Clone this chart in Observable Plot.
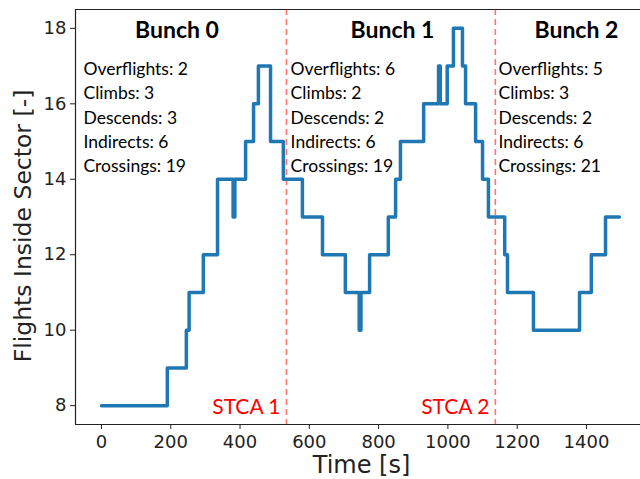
<!DOCTYPE html>
<html>
<head>
<meta charset="utf-8">
<script src="https://cdn.jsdelivr.net/npm/d3@7"></script>
<script src="https://cdn.jsdelivr.net/npm/@observablehq/plot@0.6"></script>
<style>
  html, body { margin: 0; padding: 0; background: #fff; overflow: hidden; }
  svg { display: block; }
</style>
</head>
<body>
<div id="chart"></div>
<script>
// Flights inside sector: change points (time [s] -> count)
const times  = [0, 190, 245, 253, 294, 335, 380, 385, 416, 439, 453, 488, 525, 580, 638, 704, 744, 749, 774, 828, 849, 863, 930, 973, 978, 998, 1016, 1042, 1051, 1080, 1100, 1117, 1164, 1172, 1247, 1380, 1414, 1455, 1495];
const counts = [8,   9,   10,  11,  12,  14,  13,  14,  15,  16,  17,  15,  14,  13,  12,  11,  10,  11,  12,  13,  14,  15,  16,  17,  16,  17,  18,   17,   16,   15,   14,   13,   12,   11,   10,   11,   12,   13,   13];

// STCA events
const stcaTimes  = [534, 1137];
const stcaLabels = ["STCA 1", "STCA 2"];

// Bunch statistics
const bunchNames  = ["Bunch 0", "Bunch 1", "Bunch 2"];
const overflights = [2, 6, 5];
const climbs      = [3, 2, 3];
const descends    = [3, 2, 2];
const indirects   = [6, 6, 6];
const crossings   = [19, 19, 21];
const bunchTitleTime = [218, 840, 1371];
const bunchStatsTime = [-52, 546, 1146];

const xTicks = [0, 200, 400, 600, 800, 1000, 1200, 1400];
const yTicks = [8, 10, 12, 14, 16, 18];
const xDomain = [-75, 1556];
const yDomain = [7.5, 18.5];

const series = times.map((t, i) => ({t, n: counts[i]}));
const stca = stcaTimes.map((t, i) => ({t, label: stcaLabels[i]}));
const bunches = bunchNames.map((name, i) => ({
  name,
  titleT: bunchTitleTime[i],
  statsT: bunchStatsTime[i],
  stats: `Overflights: ${overflights[i]}\nClimbs: ${climbs[i]}\nDescends: ${descends[i]}\nIndirects: ${indirects[i]}\nCrossings: ${crossings[i]}`
}));

const annFont = "Lato, 'Open Sans', sans-serif";
const axFont = "'DejaVu Sans', DejaVuSans, sans-serif";

const chart = Plot.plot({
  width: 640,
  height: 479,
  marginLeft: 75,
  marginRight: 0,
  marginTop: 9,
  marginBottom: 55,
  style: {fontFamily: axFont, fontSize: "18px", color: "#222", background: "#fff"},
  x: {domain: xDomain},
  y: {domain: yDomain},
  marks: [
    Plot.axisX({ticks: xTicks, tickFormat: d => String(d), tickSize: 5, tickPadding: 6, label: null, fontSize: 18, fontFamily: axFont, stroke: "#222", fill: "#222"}),
    Plot.axisY({ticks: yTicks, tickFormat: d => String(d), tickSize: 5, tickPadding: 4, label: null, fontSize: 18, fontFamily: axFont, stroke: "#222", fill: "#222"}),
    Plot.ruleY([yDomain[0], yDomain[1]], {stroke: "#222", strokeWidth: 1.2}),
    Plot.ruleX([xDomain[0]], {stroke: "#222", strokeWidth: 1.2}),
    Plot.ruleX(stca, {x: "t", stroke: "red", strokeOpacity: 0.55, strokeWidth: 1.6, strokeDasharray: "6,4"}),
    Plot.line(series, {x: "t", y: "n", curve: "step-after", stroke: "#1f77b4", strokeWidth: 3.5, strokeLinejoin: "round"}),
    Plot.text(stca, {x: "t", text: "label", frameAnchor: "bottom", lineAnchor: "bottom", textAnchor: "end", dx: -6, dy: -11, fill: "red", fontSize: 21, fontFamily: annFont}),
    Plot.text(bunches, {x: "titleT", text: "name", frameAnchor: "top", lineAnchor: "bottom", textAnchor: "middle", dy: 28, fill: "black", fontSize: 23, fontWeight: "bold", fontFamily: annFont}),
    Plot.text(bunches, {x: "statsT", text: "stats", frameAnchor: "top", lineAnchor: "top", textAnchor: "start", dy: 48.6, lineHeight: 1.383, fill: "black", fontSize: 17.5, fontFamily: annFont}),
    Plot.text(["Flights Inside Sector [-]"], {frameAnchor: "left", rotate: -90, dx: -52, dy: 9, textAnchor: "middle", lineAnchor: "middle", fill: "#222", fontSize: 23.5, fontFamily: axFont}),
    Plot.text(["Time [s]"], {frameAnchor: "bottom", lineAnchor: "bottom", dx: 3.5, dy: 48, textAnchor: "middle", fill: "#222", fontSize: 24, fontFamily: axFont})
  ]
});
document.getElementById("chart").appendChild(chart);
</script>
</body>
</html>
